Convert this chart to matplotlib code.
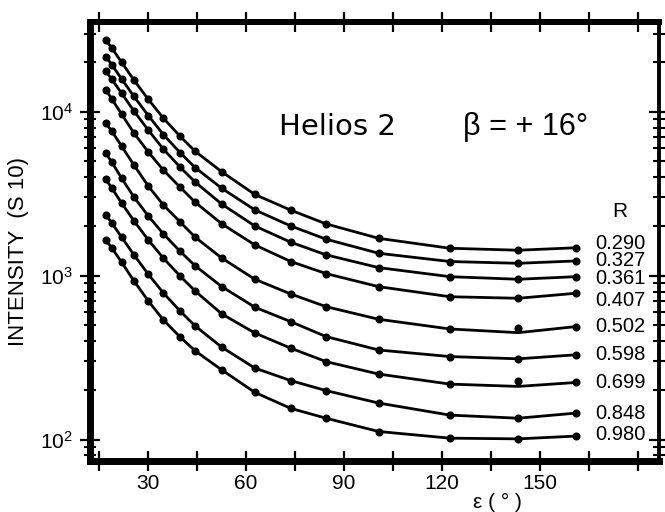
import matplotlib
matplotlib.use('Agg')
from matplotlib import pyplot as plt
from matplotlib.ticker import FixedLocator, LogLocator, NullFormatter

plt.rcParams['font.family'] = ['Liberation Sans', 'DejaVu Sans']

# elongation angles of the data points (degrees)
eps = [17.2, 19.0, 22.0, 25.8, 30.2, 34.8, 39.9, 44.5, 52.7, 62.8, 73.8, 84.6, 100.7, 122.5, 143.4, 161.0]

r_labels = ["0.290", "0.327", "0.361", "0.407", "0.502", "0.598", "0.699", "0.848", "0.980"]

i_290 = [27400, 24500, 20100, 15600, 11900, 9150, 7100, 5750, 4300, 3130, 2510, 2070, 1690, 1470, 1430, 1480]
i_327 = [21700, 19400, 15900, 12400, 9480, 7260, 5640, 4570, 3410, 2520, 2010, 1670, 1370, 1220, 1190, 1230]
i_361 = [17700, 15800, 13000, 10100, 7730, 5920, 4600, 3730, 2730, 2010, 1600, 1340, 1120, 986, 951, 986]
i_407 = [13600, 12000, 9690, 7420, 5680, 4410, 3470, 2810, 2070, 1540, 1220, 1030, 857, 744, 728, 781]
i_502 = [8500, 7630, 6180, 4730, 3520, 2700, 2130, 1720, 1280, 951, 773, 647, 542, 473, 482, 489]
i_598 = [5580, 4940, 3940, 3020, 2310, 1800, 1410, 1150, 857, 642, 524, 425, 352, 321, 311, 329]
i_699 = [3870, 3430, 2780, 2160, 1650, 1280, 996, 807, 584, 447, 361, 299, 251, 218, 229, 223]
i_848 = [2350, 2100, 1720, 1340, 1020, 785, 609, 494, 366, 273, 229, 199, 167, 141, 135, 145]
i_980 = [1650, 1480, 1210, 929, 701, 537, 423, 348, 266, 194, 155, 135, 112, 102, 101, 105]

curves = [i_290, i_327, i_361, i_407, i_502, i_598, i_699, i_848, i_980]

# where the drawn curve misses a measured point: (curve index, point index, curve value)
line_fix = [(4, 14, 449), (6, 14, 211)]

# small vertical nudges (points) for crowded labels on the right
label_nudge = [3, 0, -1, -5, 0, 0, 0, 0, 1]


def main():
	fig = plt.figure(figsize=(6.65, 5.12), dpi=100)
	ax = fig.add_axes([0.1346, 0.0996, 0.8564, 0.8574])

	for k, vals in enumerate(curves):
		line_vals = list(vals)
		for ci, pi, v in line_fix:
			if ci == k:
				line_vals[pi] = v
		ax.plot(eps, line_vals, color='black', lw=2.0, solid_capstyle='round')
		ax.plot(eps, vals, 'o', color='black', ms=4.8)
		ax.annotate(r_labels[k], (167.0, vals[-1]), xytext=(0, label_nudge[k]),
			textcoords='offset points', ha='left', va='center', fontsize=14.5)

	ax.set_yscale('log')
	ax.set_xlim(12.2, 186.5)
	ax.set_ylim(74, 35300)

	ax.xaxis.set_major_locator(FixedLocator(list(range(15, 181, 15))))
	ax.set_xticklabels(['' if t % 30 or t > 150 else str(t) for t in range(15, 181, 15)])
	ax.yaxis.set_major_locator(LogLocator(base=10, numticks=10))
	ax.yaxis.set_minor_locator(LogLocator(base=10, subs=range(2, 10), numticks=20))
	ax.yaxis.set_minor_formatter(NullFormatter())

	ax.tick_params(axis='x', which='major', direction='inout', length=15, width=1.6,
		top=True, bottom=True, labelsize=15, pad=2)
	ax.tick_params(axis='y', which='major', direction='inout', length=14, width=1.6,
		left=True, right=True, labelsize=15, pad=5)
	ax.tick_params(axis='y', which='minor', direction='inout', length=8, width=1.5,
		left=True, right=True)

	ax.spines['left'].set_linewidth(5.0)
	ax.spines['bottom'].set_linewidth(5.0)
	ax.spines['top'].set_linewidth(4.3)
	ax.spines['right'].set_linewidth(2.8)

	fig.text(19 / 665, 1 - 251 / 512, "INTENSITY  (S 10)", rotation=90,
		ha='center', va='center', fontsize=16)
	fig.text(497 / 665, 0.0, "ε ( ° )", ha='center', va='bottom', fontsize=15)

	ax.text(88.2, 7200, "Helios 2", ha='center', va='baseline', fontsize=21, family='DejaVu Sans')
	ax.text(126.5, 7200, "β = + 16°", ha='left', va='baseline', fontsize=22)
	ax.text(174.6, 2450, "R", ha='center', va='center', fontsize=15)

	plt.savefig("out.png", dpi=100)


if __name__ == '__main__':
	main()
